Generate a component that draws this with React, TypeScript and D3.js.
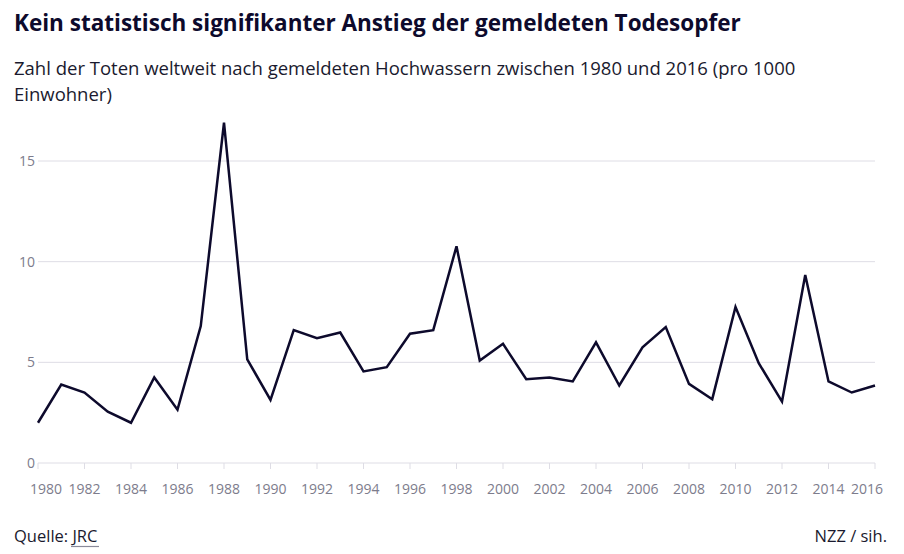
import React from "react";
import * as d3 from "d3";

const years: number[] = d3.range(1980, 2017);
const deaths: number[] = [
  2.0, 3.9, 3.5, 2.55, 2.0, 4.25, 2.65, 6.8, 16.9, 5.15,
  3.13, 6.6, 6.2, 6.48, 4.55, 4.76, 6.42, 6.6, 10.76, 5.09,
  5.92, 4.16, 4.25, 4.05, 5.99, 3.85, 5.75, 6.75, 3.93, 3.17,
  7.75, 4.96, 3.05, 9.34, 4.05, 3.5, 3.85,
];
const yTicks: number[] = [0, 5, 10, 15];
const xTickYears: number[] = [
  1980, 1982, 1984, 1986, 1988, 1990, 1992, 1994, 1996, 1998,
  2000, 2002, 2004, 2006, 2008, 2010, 2012, 2014, 2016,
];

const W = 904;
const H = 554;
const FONT = "'Open Sans', 'Noto Sans', sans-serif";

export default function App() {
  const x = d3.scaleLinear().domain([1980, 2016]).range([38, 875]);
  const y = d3.scaleLinear().domain([0, 15]).range([463, 161]);
  const line = d3
    .line<number>()
    .x((_, i) => x(years[i]))
    .y((d) => y(d));

  const last = xTickYears.length - 1;

  return (
    <div style={{ position: "absolute", left: 0, top: 0 }}>
      <svg width={W} height={H} style={{ display: "block", background: "#fff" }}>
        <text x={14} y={31} fontFamily={FONT} fontWeight={700} fontSize={22.5} fill="#0d0a2c">
          Kein statistisch signifikanter Anstieg der gemeldeten Todesopfer
        </text>
        <text x={14} y={75} fontFamily={FONT} fontSize={18.5} fill="#1a1a2e">
          Zahl der Toten weltweit nach gemeldeten Hochwassern zwischen 1980 und 2016 (pro 1000
        </text>
        <text x={14} y={101} fontFamily={FONT} fontSize={18.5} fill="#1a1a2e">
          Einwohner)
        </text>

        {yTicks.map((t) => (
          <g key={t}>
            <line x1={x(1980)} x2={x(2016)} y1={y(t)} y2={y(t)} stroke="#dedde5" strokeWidth={1} />
            <text
              x={35}
              y={y(t)}
              dy="0.35em"
              textAnchor="end"
              fontFamily={FONT}
              fontSize={14}
              fill="#7d7c8c"
            >
              {t}
            </text>
          </g>
        ))}

        {xTickYears.map((yr) => (
          <line key={"t" + yr} x1={x(yr)} x2={x(yr)} y1={y(0)} y2={y(0) + 6} stroke="#dedde5" strokeWidth={1} />
        ))}
        {xTickYears.map((yr, i) => (
          <text
            key={"l" + yr}
            x={i === 0 ? x(yr) - 8 : i === last ? x(yr) + 8 : x(yr)}
            y={494}
            textAnchor={i === 0 ? "start" : i === last ? "end" : "middle"}
            fontFamily={FONT}
            fontSize={14}
            fill="#7d7c8c"
          >
            {yr}
          </text>
        ))}

        <path
          d={line(deaths) || ""}
          fill="none"
          stroke="#0d0a2c"
          strokeWidth={2.5}
          strokeLinejoin="miter"
        />

        <text x={14} y={542} fontFamily={FONT} fontSize={16.5} fill="#1a1a2e">
          Quelle: JRC
        </text>
        <line x1={71} x2={99} y1={546.5} y2={546.5} stroke="#8a8a9a" strokeWidth={1.2} />
        <text x={887} y={542} textAnchor="end" fontFamily={FONT} fontSize={16.5} fill="#1a1a2e">
          NZZ / sih.
        </text>
      </svg>
    </div>
  );
}
